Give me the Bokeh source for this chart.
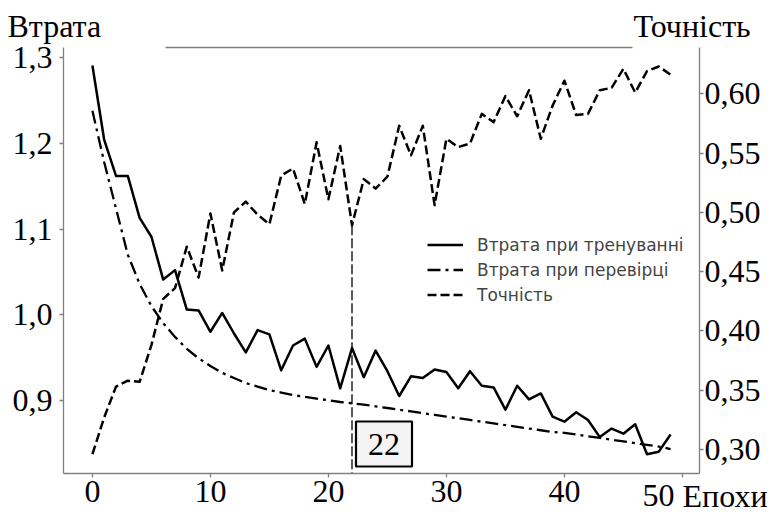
from bokeh.plotting import figure
from bokeh.models import (Range1d, LinearAxis, FixedTicker, CustomJSTickFormatter,
                          Label, Legend, LegendItem)
from bokeh.core.properties import value
from bokeh.embed import file_html
from bokeh.resources import INLINE

# ---------------- data ----------------
epochs = list(range(50))
train_loss = [1.291, 1.204, 1.162, 1.162, 1.113, 1.091, 1.041, 1.052, 1.006, 1.005,
              0.980, 1.002, 0.978, 0.956, 0.982, 0.977, 0.935, 0.964, 0.972, 0.939,
              0.964, 0.914, 0.961, 0.927, 0.958, 0.934, 0.905, 0.928, 0.926, 0.936,
              0.933, 0.914, 0.934, 0.917, 0.915, 0.889, 0.917, 0.901, 0.908, 0.881,
              0.875, 0.886, 0.877, 0.857, 0.867, 0.861, 0.872, 0.837, 0.840, 0.860]
val_loss = [1.238, 1.178, 1.124, 1.070, 1.036, 1.010, 0.990, 0.974, 0.960, 0.949,
            0.940, 0.932, 0.926, 0.920, 0.916, 0.912, 0.909, 0.906, 0.904, 0.902,
            0.900, 0.898, 0.8965, 0.895, 0.893, 0.891, 0.889, 0.887, 0.885, 0.883,
            0.881, 0.879, 0.877, 0.875, 0.873, 0.871, 0.869, 0.867, 0.865, 0.863,
            0.862, 0.860, 0.858, 0.856, 0.854, 0.852, 0.850, 0.848, 0.846, 0.843]
accuracy = [0.296, 0.327, 0.353, 0.358, 0.357, 0.388, 0.427, 0.436, 0.471, 0.445,
            0.499, 0.451, 0.500, 0.509, 0.498, 0.490, 0.531, 0.537, 0.507, 0.559,
            0.511, 0.556, 0.489, 0.528, 0.520, 0.530, 0.573, 0.548, 0.573, 0.506,
            0.562, 0.555, 0.558, 0.583, 0.576, 0.598, 0.581, 0.603, 0.562, 0.590,
            0.611, 0.582, 0.583, 0.603, 0.605, 0.621, 0.601, 0.619, 0.623, 0.616]
marked_epoch = 22

x_ticks = [0, 10, 20, 30, 40, 50]
loss_ticks = [0.9, 1.0, 1.1, 1.2, 1.3]
acc_ticks = [0.30, 0.35, 0.40, 0.45, 0.50, 0.55, 0.60]

loss_title = "Втрата"
acc_title = "Точність"
x_title = "Епохи"
legend_labels = ["Втрата при тренуванні", "Втрата при перевірці", "Точність"]

# ---------------- layout / style ----------------
W, H = 773, 514
LEFT, RIGHT, TOP, BOTTOM = 63, 74, 47, 41
SERIF = "Liberation Serif"
SANS = "DejaVu Sans"
GREY = "#808080"
BIG = "32px"

p = figure(width=W, height=H, output_backend="svg", toolbar_location=None,
           x_range=Range1d(-2.45, 51.45), y_range=Range1d(0.8145, 1.312),
           min_border_left=LEFT, min_border_right=RIGHT, min_border_top=TOP,
           min_border_bottom=BOTTOM)
p.extra_y_ranges = {"acc": Range1d(0.2797, 0.639),
                    "px": Range1d(H - BOTTOM, TOP)}          # page-pixel mapping
p.extra_x_ranges = {"px": Range1d(LEFT, W - RIGHT)}
p.grid.visible = False
p.outline_line_color = None
p.background_fill_color = "white"
p.border_fill_color = "white"

right_axis = LinearAxis(y_range_name="acc")
p.add_layout(right_axis, "right")


def style_axis(ax, ticks, code, standoff):
    ax.ticker = FixedTicker(ticks=ticks)
    ax.formatter = CustomJSTickFormatter(code=code)
    ax.axis_line_color = GREY
    ax.axis_line_width = 1.3
    ax.major_tick_line_color = GREY
    ax.major_tick_line_width = 1.3
    ax.major_tick_out = 4
    ax.major_tick_in = 0
    ax.minor_tick_line_color = None
    ax.major_label_text_font = SERIF
    ax.major_label_text_font_size = BIG
    ax.major_label_text_color = "black"
    ax.major_label_standoff = standoff


style_axis(p.xaxis[0], x_ticks, "return tick.toFixed(0);", 3)
style_axis(p.yaxis[0], loss_ticks, "return tick.toFixed(1).replace('.', ',');", 7)
style_axis(right_axis, acc_ticks, "return tick.toFixed(2).replace('.', ',');", 1)
# the last x label is drawn together with the axis title (shifted left, as in the original)
p.xaxis[0].major_label_overrides = {x_ticks[-1]: ""}

# ---------------- lines ----------------
r_train = p.line(epochs, train_loss, line_color="black", line_width=2.5, line_join="round")
r_val = p.line(epochs, val_loss, line_color="black", line_width=2.3,
               line_dash="13 5 3 5", line_join="round")
r_acc = p.line(epochs, accuracy, y_range_name="acc", line_color="black",
               line_width=2.5, line_dash="9 4", line_join="round")

idx = epochs.index(marked_epoch)
p.segment(x0=[marked_epoch], y0=[accuracy[idx]], x1=[marked_epoch],
          y1=[p.extra_y_ranges["acc"].start], y_range_name="acc",
          line_color="black", line_width=1.3, line_dash="10 3")

p.add_layout(Label(x=marked_epoch, y=7, x_units="data", y_units="screen", x_offset=4,
                   text=str(marked_epoch), text_font=SERIF, text_font_size=BIG,
                   text_color="black", text_align="left", text_baseline="bottom",
                   border_line_color="black", border_line_width=2.2,
                   background_fill_color="#f4f4f4", padding=12))

# ---------------- legend ----------------
legend = Legend(items=[LegendItem(label=legend_labels[0], renderers=[r_train]),
                       LegendItem(label=legend_labels[1], renderers=[r_val]),
                       LegendItem(label=legend_labels[2], renderers=[r_acc])],
                location=(364, 168), orientation="vertical",
                border_line_color=None, background_fill_alpha=0,
                label_text_font=SANS, label_text_font_size="17px",
                glyph_width=36, glyph_height=21, label_height=21,
                label_standoff=14, spacing=4, padding=0, margin=0)
p.add_layout(legend)

# ---------------- frame top edge (with gaps under the titles) ----------------
p.segment(x0=[165], y0=[TOP], x1=[632], y1=[TOP], x_range_name="px", y_range_name="px",
          line_color=GREY, line_width=1.3, level="overlay")

# ---------------- titles outside the frame (page-pixel coordinates) ----------------
p.text(x=[7, 633, 642, 682], y=[25, 25, 495, 495],
       text=[loss_title, acc_title, str(x_ticks[-1]), x_title],
       x_range_name="px", y_range_name="px", level="overlay",
       text_font=value(SERIF), text_font_size=value(BIG), text_color="black",
       text_align="left", text_baseline="alphabetic")

open("out.html", "w").write(file_html(p, INLINE))
